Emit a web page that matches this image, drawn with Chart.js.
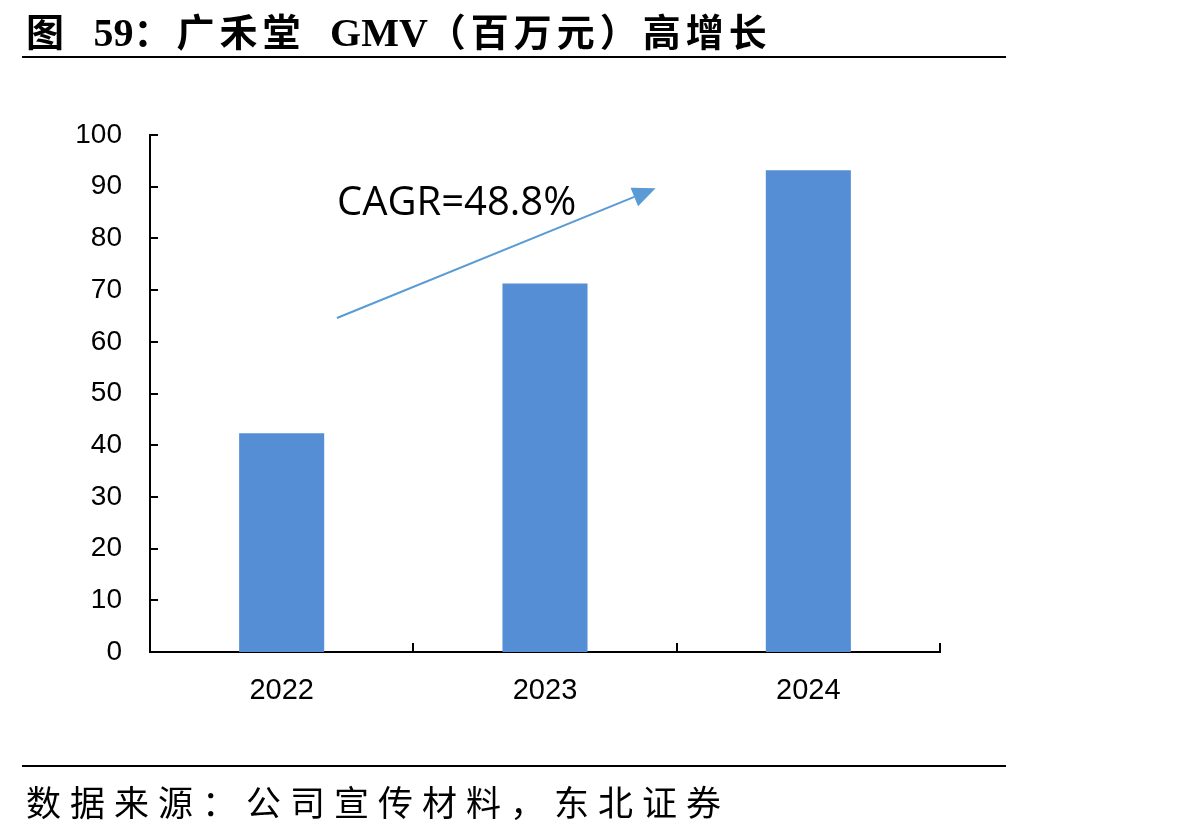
<!DOCTYPE html>
<html>
<head>
<meta charset="utf-8">
<script src="https://cdn.jsdelivr.net/npm/chart.js@4/dist/chart.umd.min.js"></script>
<style>
  html, body { margin: 0; padding: 0; background: #fff; }
  body { width: 1198px; height: 832px; position: relative; overflow: hidden; }
  #wrap { position: absolute; left: 0; top: 0; width: 1198px; height: 832px; }
  .title {
    position: absolute; left: 26px; top: 2px; white-space: nowrap;
    font: bold 38px "Liberation Serif", "Noto Sans CJK SC", serif; color: #000;
    letter-spacing: 5px; word-spacing: 10px;
  }
  .title .lat { letter-spacing: 0; font-size: 40px; }
  .rule { position: absolute; left: 22px; width: 984px; height: 2px; background: #000; }
  .source {
    position: absolute; left: 26px; top: 775px; white-space: nowrap;
    font: 35px "Noto Sans CJK SC", sans-serif; color: #000; letter-spacing: 9px;
  }
</style>
</head>
<body>
<div id="wrap"><canvas id="chart"></canvas></div>
<div class="title">图 <span class="lat">59</span>：广禾堂 <span class="lat">GMV</span>（百万元）高增长</div>
<div class="rule" style="top:56px"></div>
<div class="rule" style="top:765px"></div>
<div class="source">数据来源：公司宣传材料，东北证券</div>
<script>
  const years = ['2022', '2023', '2024'];
  const gmv = [42.3, 71.3, 93.2];
  const cagrLabel = 'CAGR=48.8%';

  const barColor = '#558ed5';
  const arrowColor = '#5b9bd5';

  // inward tick marks like the original office chart
  const innerTicks = {
    id: 'innerTicks',
    afterDraw(chart) {
      const { ctx, chartArea, scales } = chart;
      ctx.save();
      ctx.strokeStyle = '#000';
      ctx.lineWidth = 2;
      scales.y.ticks.forEach((t, i) => {
        const y = Math.round(scales.y.getPixelForTick(i));
        ctx.beginPath();
        ctx.moveTo(chartArea.left, y);
        ctx.lineTo(chartArea.left + 8, y);
        ctx.stroke();
      });
      for (let i = 0; i <= years.length; i++) {
        const x = Math.round(scales.x.getPixelForValue(i - 0.5));
        ctx.beginPath();
        ctx.moveTo(x, chartArea.bottom);
        ctx.lineTo(x, chartArea.bottom - 9);
        ctx.stroke();
      }
      ctx.restore();
    }
  };

  // CAGR arrow, placed in data space (category index, value)
  const cagrArrow = {
    id: 'cagrArrow',
    afterDatasetsDraw(chart) {
      const { ctx, scales } = chart;
      const x0 = scales.x.getPixelForValue(0.21), y0 = scales.y.getPixelForValue(64.6);
      const x1 = scales.x.getPixelForValue(1.42), y1 = scales.y.getPixelForValue(89.7);
      const ang = Math.atan2(y1 - y0, x1 - x0);
      const headLen = 23, headW = 10;
      const bx = x1 - headLen * Math.cos(ang), by = y1 - headLen * Math.sin(ang);
      ctx.save();
      ctx.strokeStyle = arrowColor;
      ctx.fillStyle = arrowColor;
      ctx.lineWidth = 2;
      ctx.beginPath();
      ctx.moveTo(x0, y0);
      ctx.lineTo(bx, by);
      ctx.stroke();
      ctx.beginPath();
      ctx.moveTo(x1, y1);
      ctx.lineTo(bx + headW * Math.sin(ang), by - headW * Math.cos(ang));
      ctx.lineTo(bx - headW * Math.sin(ang), by + headW * Math.cos(ang));
      ctx.closePath();
      ctx.fill();

      ctx.fillStyle = '#000';
      ctx.font = '40px "Open Sans", sans-serif';
      ctx.textAlign = 'left';
      ctx.textBaseline = 'alphabetic';
      ctx.fillText(cagrLabel, scales.x.getPixelForValue(0.21), scales.y.getPixelForValue(84.6), 242);
      ctx.restore();
    }
  };

  new Chart(document.getElementById('chart'), {
    type: 'bar',
    data: {
      labels: years,
      datasets: [{
        data: gmv,
        backgroundColor: barColor,
        borderWidth: 0,
        barPercentage: 0.323,
        categoryPercentage: 1.0,
      }],
    },
    options: {
      responsive: true,
      maintainAspectRatio: false,
      animation: false,
      layout: { padding: { left: 0, top: 135, right: 258, bottom: 120 } },
      plugins: {
        legend: { display: false },
        tooltip: { enabled: false },
      },
      scales: {
        x: {
          grid: { display: false, drawTicks: false },
          border: { display: true, color: '#000', width: 2 },
          ticks: {
            color: '#000',
            padding: 22,
            font: { family: '"Liberation Sans", Arial, sans-serif', size: 29 },
          },
          afterFit: (s) => { s.height = 60; },
        },
        y: {
          min: 0,
          max: 100,
          grid: { display: false, drawTicks: false },
          border: { display: true, color: '#000', width: 2 },
          ticks: {
            stepSize: 10,
            color: '#000',
            padding: 28,
            font: { family: '"Liberation Sans", Arial, sans-serif', size: 28 },
          },
          afterFit: (s) => { s.width = 150; },
        },
      },
    },
    plugins: [innerTicks, cagrArrow],
  });
</script>
</body>
</html>
